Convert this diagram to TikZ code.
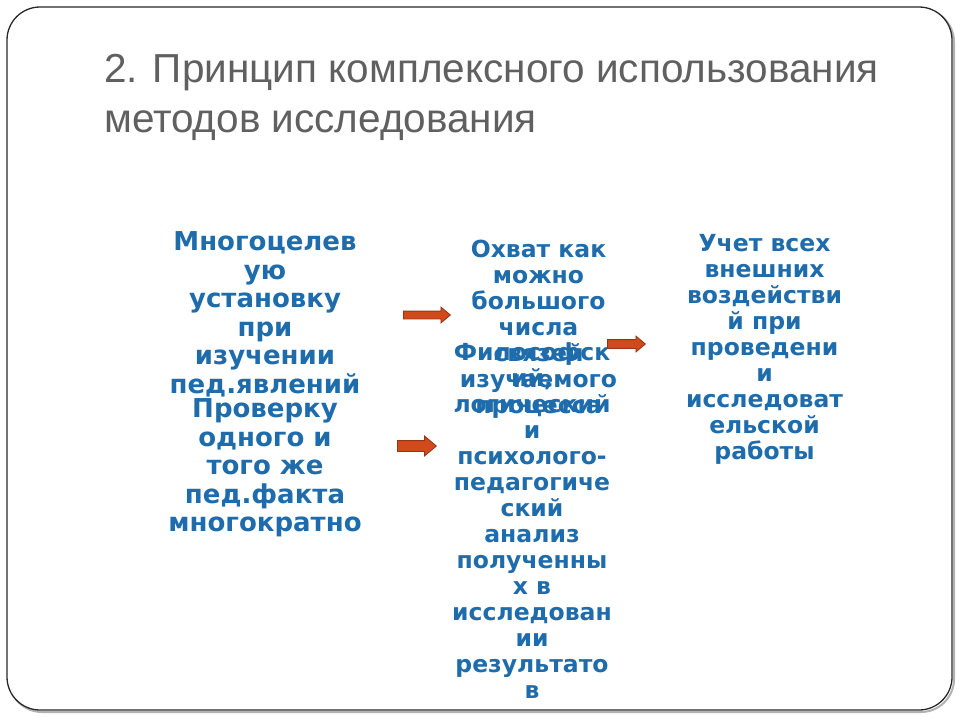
\documentclass[tikz,border=0pt]{standalone}
\usepackage{fontspec}
\setmainfont{DejaVu Sans}
\newfontfamily\titlefont{Liberation Sans}
\usetikzlibrary{shapes.arrows}
\definecolor{textblue}{RGB}{31,108,172}
\definecolor{titlegray}{RGB}{96,96,96}
\definecolor{arrowfill}{RGB}{208,74,28}
\definecolor{arrowline}{RGB}{150,52,24}
\definecolor{framegray}{RGB}{40,40,40}
\tikzset{
  bluetext/.style={text=textblue, align=center, inner sep=0pt, font=\bfseries\fontsize{26}{28.5}\selectfont},
  bluetextsmall/.style={text=textblue, align=center, inner sep=0pt, font=\bfseries\fontsize{23.5}{26}\selectfont},
  blockarrow/.style={single arrow, fill=arrowfill, draw=arrowline, line width=0.8pt,
    inner xsep=0pt, single arrow tip angle=80, single arrow head indent=0pt, anchor=west}
}
\begin{document}
\begin{tikzpicture}[x=1pt,y=-1pt]
\useasboundingbox (0,0) rectangle (960,720);
% frame with shadow
\draw[gray!60, line width=2pt, rounded corners=33pt] (9,9) rectangle (954,712);
\draw[framegray, line width=1.3pt, fill=white, rounded corners=33pt] (7,7) rectangle (952,710);
% title
\node[anchor=north west, inner sep=0pt, text=titlegray, align=left,
      font=\titlefont\fontsize{40.5}{50}\selectfont] (title) at (104,54)
  {2. Принцип комплексного использования\\методов исследования};
% left column
\node[bluetext] (l1) at (265,314.5) {Многоцелев\\ую\\установку\\при\\изучении\\пед.явлений};
\node[bluetext] (l2) at (265,468) {Проверку\\одного и\\того же\\пед.факта\\многократно};
% middle column
\node[bluetextsmall] (m1) at (538.5,329) {Охват как\\можно\\большого\\числа\\связей\\изучаемого\\процесса};
\node[bluetextsmall] (m2) at (532,521) {Философск\\ий,\\логический\\и\\психолого-\\педагогиче\\ский\\анализ\\полученны\\х в\\исследован\\ии\\результато\\в};
% right column
\node[bluetextsmall] (r1) at (764.5,349) {Учет всех\\внешних\\воздействи\\й при\\проведени\\и\\исследоват\\ельской\\работы};
% arrows
\node[blockarrow, minimum height=47pt, inner ysep=3.5pt, single arrow head extend=4pt] (a1) at (403,315) {};
\node[blockarrow, minimum height=39pt, inner ysep=5pt, single arrow head extend=4.5pt] (a2) at (397,446) {};
\node[blockarrow, minimum height=38pt, inner ysep=4pt, single arrow head extend=3.5pt] (a3) at (607,344) {};
\end{tikzpicture}
\end{document}
